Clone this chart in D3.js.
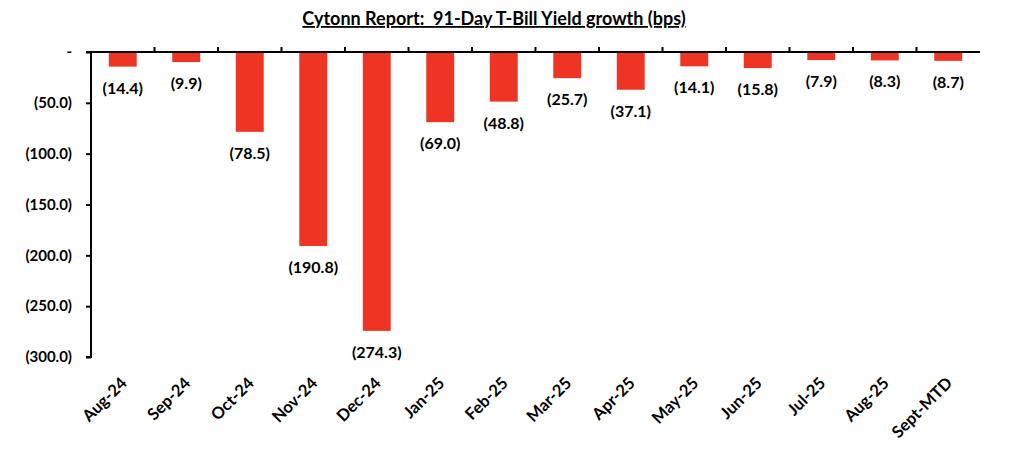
<!DOCTYPE html>
<html><head><meta charset="utf-8">
<script src="https://cdn.jsdelivr.net/npm/d3@7"></script>
<style>body{margin:0;background:#fff;font-family:Lato,"Open Sans",sans-serif;}</style>
</head><body><svg id="c" width="1010" height="460"></svg>
<script>
const categories=["Aug-24","Sep-24","Oct-24","Nov-24","Dec-24","Jan-25","Feb-25","Mar-25","Apr-25","May-25","Jun-25","Jul-25","Aug-25","Sept-MTD"];
const values=[-14.4,-9.9,-78.5,-190.8,-274.3,-69.0,-48.8,-25.7,-37.1,-14.1,-15.8,-7.9,-8.3,-8.7];
const yTicks=[0,-50,-100,-150,-200,-250,-300];
const title="Cytonn Report:  91-Day T-Bill Yield growth (bps)";

const svg=d3.select("#c");
const m={l:91,r:30,t:52,b:103};
const W=1010,H=460;
const x=d3.scaleBand().domain(categories).range([m.l,W-m.r]).paddingInner(0.56).paddingOuter(0.28);
const y=d3.scaleLinear().domain([-300,0]).range([357,52]);
const fmt=v=>v===0?"-":"("+Math.abs(v).toFixed(1)+")";
const red="#EE3524";

svg.append("text").attr("x",494).attr("y",25).attr("text-anchor","middle")
 .attr("font-weight","bold").attr("font-size",18).attr("text-decoration","underline")
 .style("white-space","pre").text(title);

svg.selectAll("rect.b").data(values).join("rect").attr("class","b")
 .attr("x",(d,i)=>x(categories[i])).attr("width",x.bandwidth())
 .attr("y",y(0)).attr("height",d=>y(d)-y(0)).attr("fill",red);

svg.selectAll("text.l").data(values).join("text").attr("class","l")
 .attr("x",(d,i)=>x(categories[i])+x.bandwidth()/2).attr("y",d=>y(d)+27)
 .attr("text-anchor","middle").attr("font-weight","bold").attr("font-size",16).text(fmt);

const ya=svg.append("g").attr("transform",`translate(${m.l},0)`)
 .call(d3.axisLeft(y).tickValues(yTicks).tickFormat(fmt).tickSize(5).tickPadding(14));
ya.select(".domain").attr("stroke","#000").attr("stroke-width",2).attr("d",`M-5,${y(-300)}H0V${y(0)}H-5`);
ya.selectAll(".tick line").attr("stroke","#000").attr("stroke-width",2);
ya.selectAll(".tick text").attr("font-weight","bold").attr("font-size",15).attr("font-family","Lato,sans-serif").attr("fill","#000");

// x axis line at zero with tick marks at band boundaries pointing up
const step=x.step();
const bounds=d3.range(1,categories.length).map(i=>m.l+i*step);
svg.append("line").attr("x1",m.l).attr("x2",W-m.r).attr("y1",y(0)).attr("y2",y(0)).attr("stroke","#000").attr("stroke-width",2);
svg.selectAll("line.xt").data(bounds).join("line").attr("class","xt")
 .attr("x1",d=>d).attr("x2",d=>d).attr("y1",y(0)).attr("y2",y(0)-5).attr("stroke","#000").attr("stroke-width",2);

svg.selectAll("text.xl").data(categories).join("text").attr("class","xl")
 .attr("transform",d=>`translate(${x(d)+x.bandwidth()/2-3},${376}) rotate(-45)`)
 .attr("text-anchor","end").attr("dy","0.7em").attr("font-weight","bold").attr("font-size",16.5).text(d=>d);
</script></body></html>
